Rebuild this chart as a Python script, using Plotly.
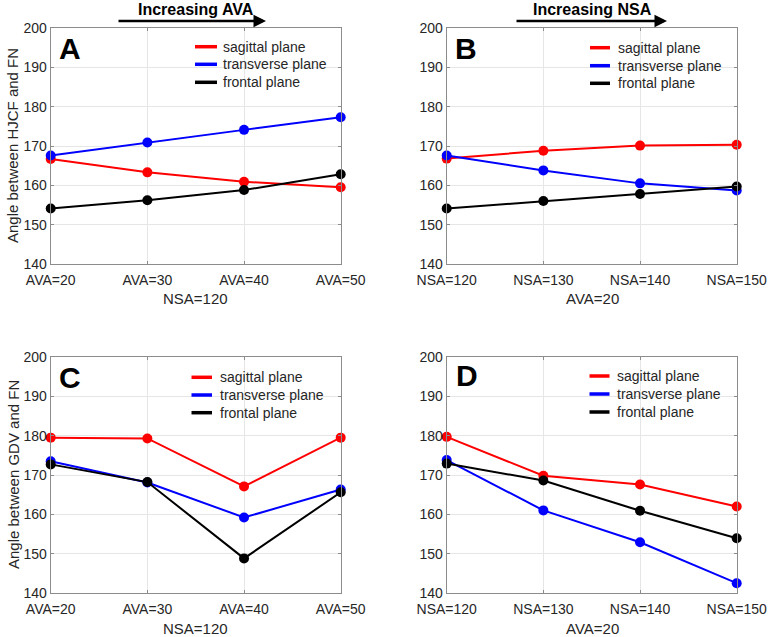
import plotly.graph_objects as go

W, H = 770, 637

# ---------------- data ----------------
ava_labels = ["AVA=20", "AVA=30", "AVA=40", "AVA=50"]
nsa_labels = ["NSA=120", "NSA=130", "NSA=140", "NSA=150"]
series_names = ["sagittal plane", "transverse plane", "frontal plane"]

# Panel A: HJCF vs FN, varying AVA (NSA=120)
a_sagittal = [166.7, 163.3, 160.9, 159.5]
a_transverse = [167.6, 170.9, 174.1, 177.3]
a_frontal = [154.1, 156.2, 158.8, 162.8]

# Panel B: HJCF vs FN, varying NSA (AVA=20)
b_sagittal = [166.8, 168.8, 170.1, 170.3]
b_transverse = [167.6, 163.8, 160.5, 158.7]
b_frontal = [154.1, 156.0, 157.8, 159.7]

# Panel C: GDV vs FN, varying AVA (NSA=120)
c_sagittal = [179.5, 179.3, 167.1, 179.5]
c_transverse = [173.5, 168.1, 159.2, 166.3]
c_frontal = [172.7, 168.2, 148.8, 165.6]

# Panel D: GDV vs FN, varying NSA (AVA=20)
d_sagittal = [179.7, 169.8, 167.6, 162.0]
d_transverse = [173.8, 161.0, 152.9, 142.5]
d_frontal = [172.9, 168.6, 160.9, 153.9]

y_ticks = [140, 150, 160, 170, 180, 190, 200]

colors = ["#FF0000", "#0000FF", "#000000"]
FONT = "Liberation Sans, Arial, sans-serif"
TXT = "#262626"

panels = [
    dict(key="A", xax="x", yax="y", labels=ava_labels,
         data=[a_sagittal, a_transverse, a_frontal]),
    dict(key="B", xax="x2", yax="y2", labels=nsa_labels,
         data=[b_sagittal, b_transverse, b_frontal]),
    dict(key="C", xax="x3", yax="y3", labels=ava_labels,
         data=[c_sagittal, c_transverse, c_frontal]),
    dict(key="D", xax="x4", yax="y4", labels=nsa_labels,
         data=[d_sagittal, d_transverse, d_frontal]),
]

# pixel geometry of plot areas
xdom_px = {"A": (50.7, 340.7), "B": (446.7, 736.7), "C": (50.7, 340.7), "D": (446.7, 736.7)}
ydom_px = {"A": (28, 264), "B": (28, 264), "C": (357, 593), "D": (357, 593)}

# legend geometry (pixels): line x0, line x1, text x, row y's
legend_geom = {
    "A": (195, 217, 221, [46.7, 64.3, 82.3]),
    "B": (590, 610, 615.5, [47.7, 65.7, 83.3]),
    "C": (191.5, 212, 217.5, [377.3, 395, 412.7]),
    "D": (589.5, 609.5, 615, [376, 394, 412]),
}

def px(x):
    return x / W

def py(y):
    return 1 - y / H

fig = go.Figure()

for p in panels:
    xs = list(range(len(p["labels"])))
    for name, vals, col in zip(series_names, p["data"], colors):
        fig.add_trace(go.Scatter(
            x=xs, y=vals, mode="lines+markers", name=name,
            line=dict(color=col, width=2),
            marker=dict(color=col, size=10),
            xaxis=p["xax"], yaxis=p["yax"], showlegend=False,
            cliponaxis=False,
        ))

layout = dict(
    template="none",
    width=W, height=H,
    margin=dict(l=0, r=0, t=0, b=0, autoexpand=False),
    paper_bgcolor="white", plot_bgcolor="white",
    font=dict(family=FONT, size=14, color=TXT),
    showlegend=False,
)

axis_common_x = dict(
    range=[0, 3], tickmode="array", tickvals=[0, 1, 2, 3],
    showgrid=True, gridcolor="#e6e6e6", gridwidth=1,
    showline=True, linecolor="#8c8c8c", linewidth=1, mirror="ticks",
    ticks="inside", ticklen=3, tickcolor="#8c8c8c",
    zeroline=False, tickfont=dict(size=14, color=TXT, family=FONT),
    fixedrange=True, automargin=False, ticklabelstandoff=3,
)
axis_common_y = dict(
    range=[140, 200], tickmode="array", tickvals=y_ticks,
    showgrid=True, gridcolor="#e6e6e6", gridwidth=1,
    showline=True, linecolor="#8c8c8c", linewidth=1, mirror="ticks",
    ticks="inside", ticklen=3, tickcolor="#8c8c8c",
    zeroline=False, tickfont=dict(size=14, color=TXT, family=FONT),
    fixedrange=True, automargin=False,
)

for i, p in enumerate(panels):
    k = p["key"]
    sfx = "" if i == 0 else str(i + 1)
    x0, x1 = xdom_px[k]
    y0, y1 = ydom_px[k]
    layout["xaxis" + sfx] = dict(axis_common_x, domain=[px(x0), px(x1)],
                                 ticktext=p["labels"], anchor="y" + sfx)
    layout["yaxis" + sfx] = dict(axis_common_y, domain=[py(y1), py(y0)],
                                 anchor="x" + sfx)

fig.update_layout(**layout)

annotations = []
shapes = []

# per-panel legends (swatch line + label)
for k, (lx0, lx1, tx, rows) in legend_geom.items():
    for name, col, ry in zip(series_names, colors, rows):
        shapes.append(dict(
            type="line", xref="paper", yref="paper",
            x0=px(lx0), x1=px(lx1), y0=py(ry), y1=py(ry),
            line=dict(color=col, width=3.5),
        ))
        annotations.append(dict(
            text=name, x=px(tx), y=py(ry), xref="paper", yref="paper",
            showarrow=False, xanchor="left", yanchor="middle",
            font=dict(size=14, color=TXT, family=FONT),
        ))

# panel letters
letter_pos = {"A": (70, 48), "B": (466, 48), "C": (70, 377), "D": (467, 375)}
for k, (lx, ly) in letter_pos.items():
    annotations.append(dict(
        text="<b>%s</b>" % k, x=px(lx), y=py(ly), xref="paper", yref="paper",
        showarrow=False, xanchor="center", yanchor="middle",
        font=dict(size=30, color="black", family=FONT),
    ))

# y axis titles
annotations.append(dict(
    text="Angle between HJCF and FN", x=px(13), y=py(146), xref="paper", yref="paper",
    showarrow=False, textangle=-90, xanchor="center", yanchor="middle",
    font=dict(size=15, color=TXT, family=FONT),
))
annotations.append(dict(
    text="Angle between GDV and FN", x=px(13), y=py(475), xref="paper", yref="paper",
    showarrow=False, textangle=-90, xanchor="center", yanchor="middle",
    font=dict(size=15, color=TXT, family=FONT),
))

# x axis titles
xt = [("NSA=120", 196, 298), ("AVA=20", 592, 298), ("NSA=120", 196, 628), ("AVA=20", 592, 628)]
for t, xx, yy in xt:
    annotations.append(dict(
        text=t, x=px(xx), y=py(yy), xref="paper", yref="paper",
        showarrow=False, xanchor="center", yanchor="middle",
        font=dict(size=15, color=TXT, family=FONT),
    ))

# "Increasing" headers with arrows
headers = [("Increasing AVA", 196, 117, 266), ("Increasing NSA", 592, 515, 667)]
for t, cx, xa, xb in headers:
    annotations.append(dict(
        text="<b>%s</b>" % t, x=px(cx), y=py(10), xref="paper", yref="paper",
        showarrow=False, xanchor="center", yanchor="middle",
        font=dict(size=16, color="black", family=FONT),
    ))
    annotations.append(dict(
        text="", x=px(xb), y=py(21), xref="paper", yref="paper",
        showarrow=True, ax=xa - xb, ay=0, axref="pixel", ayref="pixel",
        arrowhead=2, arrowsize=1.0, arrowwidth=2.5, arrowcolor="black",
    ))

fig.update_layout(annotations=annotations, shapes=shapes)

fig.write_html(
    "out.html",
    config={"displayModeBar": False, "staticPlot": True},
    post_script="document.body.style.margin='0';document.body.style.overflow='hidden';",
)
